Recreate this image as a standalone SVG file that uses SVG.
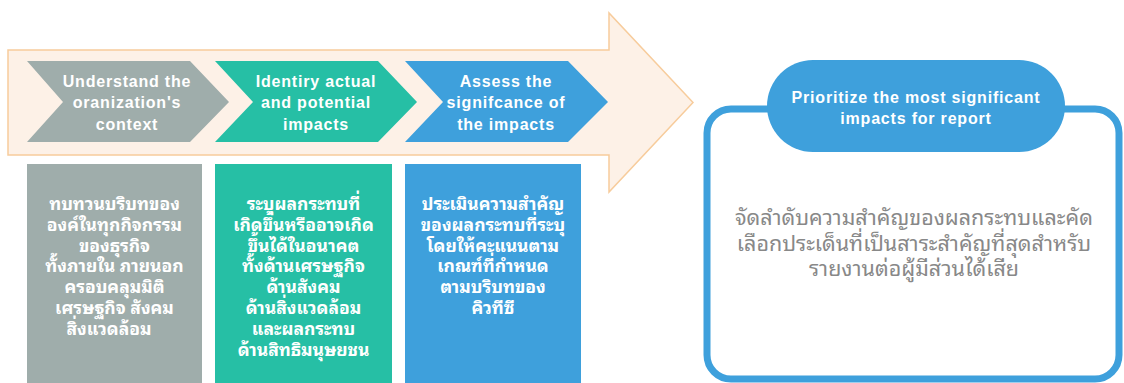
<svg xmlns="http://www.w3.org/2000/svg" width="1124" height="383" viewBox="0 0 1124 383">
<style>
.hd{font-family:"Liberation Sans",Arial,sans-serif;font-weight:bold;font-size:16px;fill:#fff;text-anchor:middle;letter-spacing:0.8px}
.th{font-family:"Noto Sans Thai Looped","Noto Sans Thai","Noto Sans",sans-serif;font-weight:bold;font-size:17.5px;fill:#fff;text-anchor:middle}
.bd{font-family:"Noto Sans Thai Looped","Noto Sans Thai","Noto Sans",sans-serif;font-size:21.5px;fill:#888;text-anchor:middle}
</style>
<rect width="1124" height="383" fill="#fff"/>
<g id="big-arrow">
<path d="M8,50 H609 V13 L693,102.5 L609,192 V155 H8 Z" fill="#FDF1E7" stroke="#F7CC9C" stroke-width="1.5"/>
</g>
<g id="step1">
<path d="M27,61 H190 L229,102 L190,142 H27 L63,102 Z" fill="#9FADAB"/>
<text class="hd"><tspan x="127" y="86.5">Understand the</tspan><tspan x="127" y="108">oranization's</tspan><tspan x="127" y="129.5">context</tspan></text>
</g>
<g id="step2">
<path d="M215,61 H378 L417,102 L378,142 H215 L253,102 Z" fill="#26BFA5"/>
<text class="hd"><tspan x="316" y="86.5">Identiry actual</tspan><tspan x="316" y="108">and potential</tspan><tspan x="316" y="129.5">impacts</tspan></text>
</g>
<g id="step3">
<path d="M405,61 H568 L608,102 L568,142 H405 L443,102 Z" fill="#3EA0DC"/>
<text class="hd"><tspan x="506" y="86.5">Assess the</tspan><tspan x="506" y="108">signifcance of</tspan><tspan x="506" y="129.5">the impacts</tspan></text>
</g>
<g id="box1">
<rect x="27" y="164" width="175" height="230" fill="#9FADAB"/>
<text class="th"><tspan x="114.5" y="210">ทบทวนบริบทของ</tspan><tspan x="114.5" y="230.8">องค์ในทุกกิจกรรม</tspan><tspan x="114.5" y="251.6">ของธุรกิจ</tspan><tspan x="114.5" y="272.4">ทั้งภายใน ภายนอก</tspan><tspan x="114.5" y="293.2">ครอบคลุมมิติ</tspan><tspan x="114.5" y="314">เศรษฐกิจ สังคม</tspan><tspan x="109" y="334.8">สิ่งแวดล้อม</tspan></text>
</g>
<g id="box2">
<rect x="215" y="164" width="177" height="230" fill="#26BFA5"/>
<text class="th"><tspan x="303.5" y="210">ระบุผลกระทบที่</tspan><tspan x="303.5" y="230.8">เกิดขึ้นหรืออาจเกิด</tspan><tspan x="303.5" y="251.6">ขึ้นได้ในอนาคต</tspan><tspan x="303.5" y="272.4">ทั้งด้านเศรษฐกิจ</tspan><tspan x="303.5" y="293.2">ด้านสังคม</tspan><tspan x="303.5" y="314">ด้านสิ่งแวดล้อม</tspan><tspan x="303.5" y="334.8">และผลกระทบ</tspan><tspan x="303.5" y="355.6">ด้านสิทธิมนุษยชน</tspan></text>
</g>
<g id="box3">
<rect x="405" y="164" width="176" height="230" fill="#3EA0DC"/>
<text class="th"><tspan x="493" y="210">ประเมินความสำคัญ</tspan><tspan x="493" y="230.8">ของผลกระทบที่ระบุ</tspan><tspan x="493" y="251.6">โดยให้คะแนนตาม</tspan><tspan x="493" y="272.4">เกณฑ์ที่กำหนด</tspan><tspan x="493" y="293.2">ตามบริบทของ</tspan><tspan x="493" y="314">คิวทีซี</tspan></text>
</g>
<g id="priority">
<rect x="707" y="109" width="412" height="270" rx="24" fill="#fff" stroke="#3EA0DC" stroke-width="7"/>
<rect x="767" y="60" width="298" height="92" rx="46" fill="#3EA0DC"/>
<text class="hd"><tspan x="916" y="102.5">Prioritize the most significant</tspan><tspan x="916" y="124">impacts for report</tspan></text>
<text class="bd"><tspan x="914" y="225">จัดลำดับความสำคัญของผลกระทบและคัด</tspan><tspan x="914" y="250.5">เลือกประเด็นที่เป็นสาระสำคัญที่สุดสำหรับ</tspan><tspan x="914" y="276">รายงานต่อผู้มีส่วนได้เสีย</tspan></text>
</g>
<g id="connectors"></g>
</svg>
